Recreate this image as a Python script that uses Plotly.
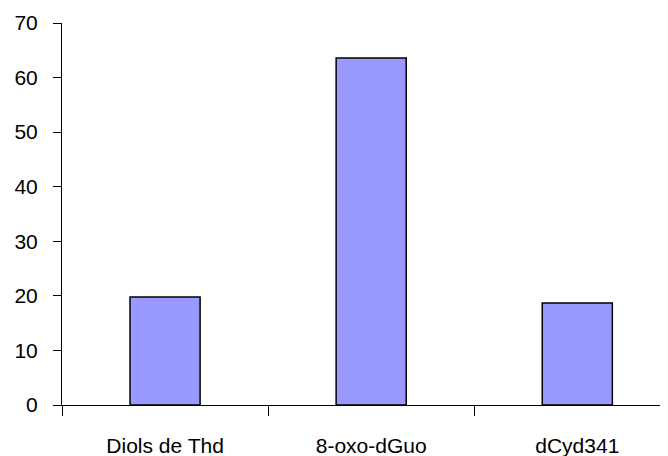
import plotly.graph_objects as go

categories = ["Diols de Thd", "8-oxo-dGuo", "dCyd341"]
values = [19.8, 63.6, 18.7]
y_ticks = [0, 10, 20, 30, 40, 50, 60, 70]

fig = go.Figure()
fig.add_trace(go.Bar(
    x=categories,
    y=values,
    width=0.34,
    marker=dict(color="#9999FF", line=dict(color="#000000", width=1.5)),
))

fig.update_layout(
    width=660,
    height=448,
    margin=dict(l=54, r=0, t=15, b=51, autoexpand=False),
    paper_bgcolor="white",
    plot_bgcolor="white",
    showlegend=False,
    font=dict(family="Liberation Sans, Arial, sans-serif", size=21, color="#000000"),
    xaxis=dict(
        type="category",
        range=[-0.5, 2.44],
        showline=True,
        linecolor="#000000",
        linewidth=1,
        ticks="outside",
        tickson="boundaries",
        ticklen=10,
        tickcolor="#000000",
        showgrid=False,
        ticklabelstandoff=22,
    ),
    yaxis=dict(
        range=[0, 70],
        tickvals=y_ticks,
        showline=True,
        linecolor="#000000",
        linewidth=1,
        ticks="outside",
        ticklen=8,
        tickcolor="#000000",
        showgrid=False,
        zeroline=False,
        ticklabelstandoff=11,
    ),
)

fig.write_html("out.html")
